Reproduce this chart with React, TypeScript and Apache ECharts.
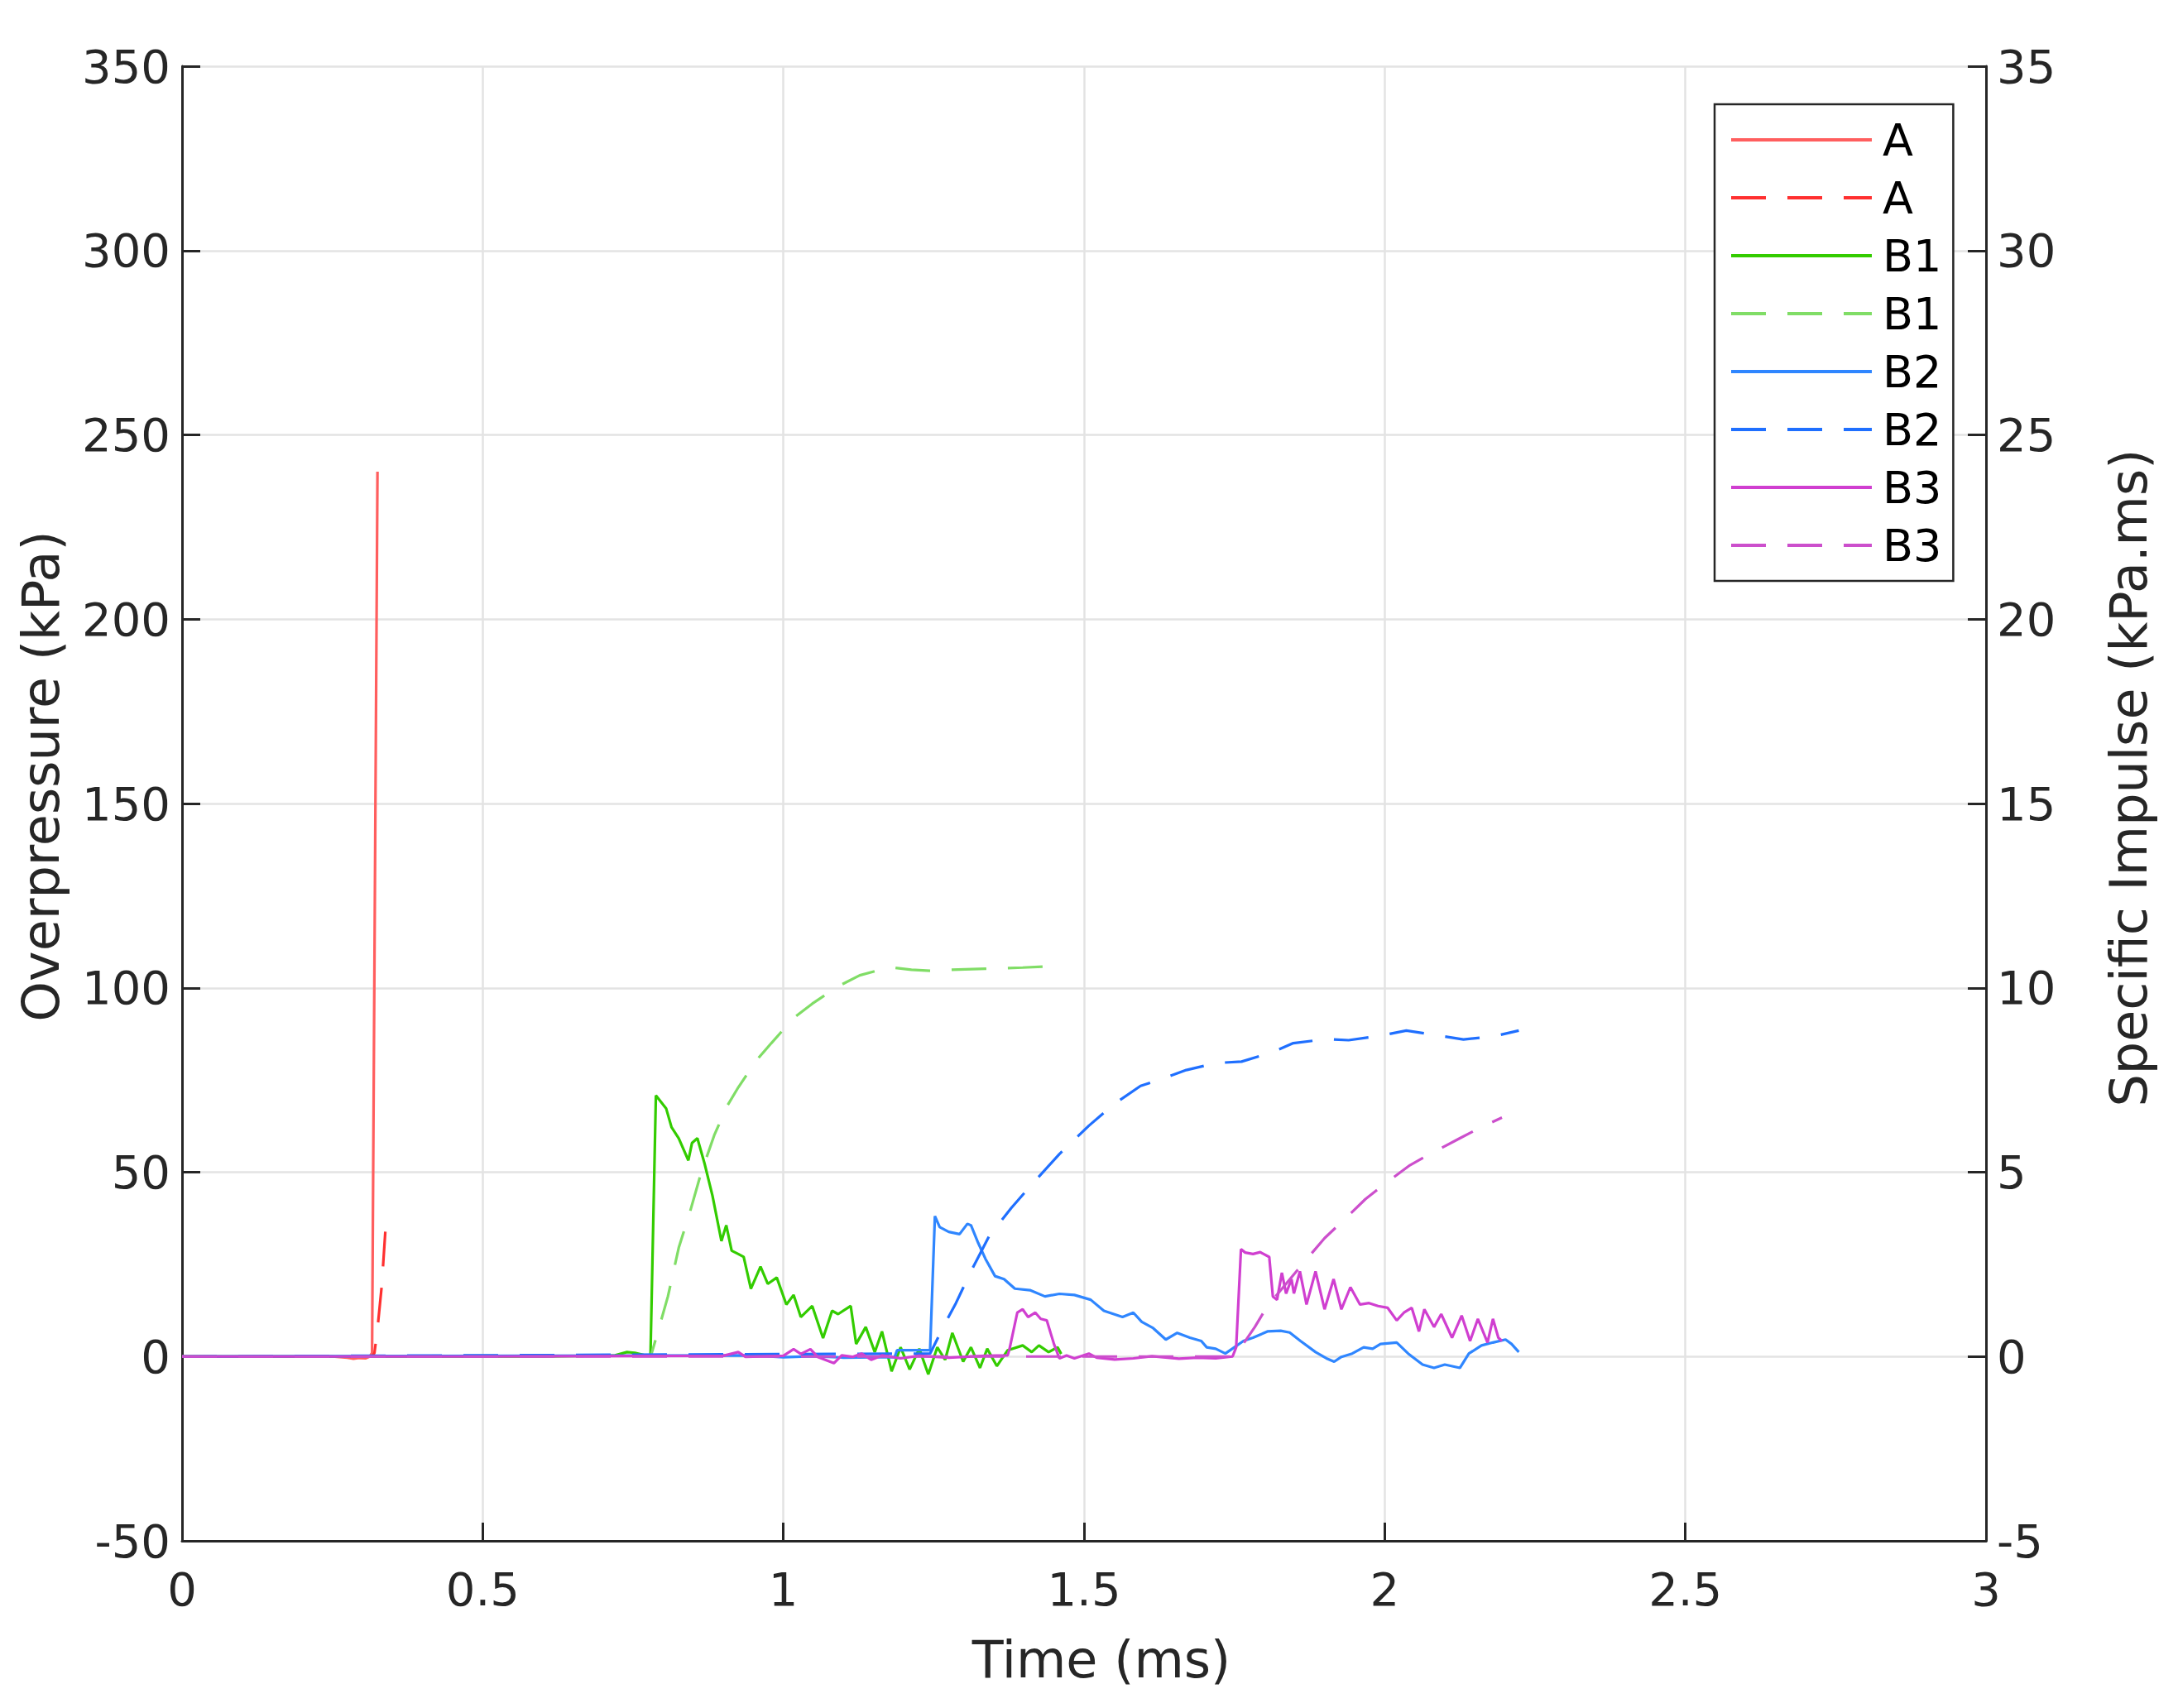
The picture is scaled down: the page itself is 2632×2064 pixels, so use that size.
import React, { useEffect, useRef } from 'react';
import * as echarts from 'echarts';

const W = 2632;
const H = 2064;
const FONT = 'DejaVu Sans';

// Axis ticks
const timeTicks = [0, 0.5, 1, 1.5, 2, 2.5, 3];
const pressureRange = [-50, 350];
const impulseRange = [-5, 35];

// Series A (overpressure kPa / impulse kPa.ms) vs time (ms)
const aTime = [0, 0.25, 0.275, 0.285, 0.295, 0.305, 0.312, 0.316, 0.325];
const aPressure = [0, 0, -0.3, -0.6, -0.4, -0.5, 0, 1, 240];
const aImpulseTime = [0, 0.316, 0.32, 0.325, 0.332, 0.3385];
const aImpulse = [0, 0, 0.1, 0.75, 1.9, 3.5];

// Series B1
const b1Time = [0, 0.6, 0.72, 0.74, 0.753, 0.77, 0.779, 0.788, 0.805, 0.814, 0.826, 0.842, 0.848, 0.857, 0.869, 0.882, 0.897, 0.905, 0.914, 0.925, 0.934, 0.946, 0.962, 0.974, 0.989, 1.005, 1.017, 1.029, 1.048, 1.066, 1.081, 1.091, 1.112, 1.121, 1.137, 1.152, 1.164, 1.18, 1.195, 1.21, 1.226, 1.241, 1.256, 1.269, 1.281, 1.299, 1.312, 1.327, 1.339, 1.355, 1.373, 1.398, 1.413, 1.425, 1.441, 1.456, 1.462];
const b1Pressure = [0, 0, 0.3, 1.2, 1.0, 0.3, 0.3, 70.8, 67.3, 62.2, 59.2, 53.2, 57.9, 59.2, 52.3, 43.7, 31.3, 35.6, 28.7, 27.8, 27.0, 18.4, 24.4, 19.7, 21.4, 14.1, 16.7, 10.7, 13.7, 5.0, 12.4, 11.5, 13.7, 3.4, 8.0, 1.2, 6.8, -4.0, 2.5, -3.5, 2.1, -4.8, 2.5, -0.9, 6.4, -1.4, 2.5, -3.1, 2.1, -2.6, 1.7, 3.0, 1.2, 3.0, 1.2, 2.5, 0.7];
const b1ImpulseTime = [0, 0.78, 0.796, 0.808, 0.826, 0.845, 0.863, 0.885, 0.906, 0.925, 0.955, 0.98, 1.017, 1.048, 1.091, 1.127, 1.177, 1.213, 1.25, 1.275, 1.336, 1.398, 1.459];
const b1Impulse = [0, 0.03, 0.94, 1.63, 2.95, 3.94, 4.97, 6.0, 6.78, 7.3, 8.03, 8.5, 9.18, 9.57, 10.04, 10.34, 10.56, 10.49, 10.46, 10.49, 10.52, 10.55, 10.6];

// Series B2
const b2Time = [0, 0.95, 1.0, 1.05, 1.1, 1.15, 1.185, 1.189, 1.241, 1.244, 1.252, 1.26, 1.275, 1.293, 1.306, 1.312, 1.324, 1.336, 1.352, 1.367, 1.385, 1.41, 1.435, 1.459, 1.484, 1.511, 1.533, 1.564, 1.582, 1.596, 1.615, 1.636, 1.655, 1.676, 1.695, 1.704, 1.719, 1.735, 1.75, 1.765, 1.781, 1.805, 1.827, 1.842, 1.86, 1.885, 1.903, 1.916, 1.928, 1.946, 1.965, 1.98, 1.993, 2.02, 2.039, 2.063, 2.082, 2.1, 2.125, 2.14, 2.161, 2.18, 2.201, 2.211, 2.223];
const b2Pressure = [0, 0.3, -0.2, 0.1, -0.3, -0.2, -0.2, 1.7, 1.7, 1.7, 38.1, 35.1, 33.8, 33.2, 36.0, 35.6, 30.8, 26.5, 21.8, 21.0, 18.4, 18.0, 16.3, 17.0, 16.7, 15.4, 12.4, 10.7, 11.9, 9.4, 7.7, 4.6, 6.4, 5.1, 4.2, 2.5, 2.1, 0.8, 2.5, 4.2, 5.1, 6.8, 7.0, 6.5, 4.2, 1.2, -0.5, -1.4, -0.1, 0.8, 2.5, 2.1, 3.4, 3.8, 0.8, -2.2, -3.1, -2.2, -3.1, 0.8, 3.0, 3.8, 4.6, 3.4, 1.2];
const b2ImpulseTime = [0, 1.244, 1.269, 1.287, 1.312, 1.342, 1.379, 1.416, 1.459, 1.508, 1.551, 1.594, 1.633, 1.67, 1.719, 1.762, 1.811, 1.848, 1.903, 1.94, 1.996, 2.036, 2.088, 2.131, 2.183, 2.223];
const b2Impulse = [0, 0.08, 0.9, 1.45, 2.31, 3.26, 4.03, 4.72, 5.49, 6.26, 6.86, 7.34, 7.55, 7.77, 7.96, 8.0, 8.24, 8.5, 8.61, 8.58, 8.71, 8.84, 8.71, 8.6, 8.69, 8.84];

// Series B3
const b3Time = [0, 0.5, 0.9, 0.925, 0.937, 1.0, 1.017, 1.029, 1.045, 1.057, 1.084, 1.097, 1.115, 1.13, 1.146, 1.164, 1.195, 1.226, 1.275, 1.336, 1.373, 1.376, 1.389, 1.398, 1.407, 1.419, 1.428, 1.438, 1.45, 1.459, 1.471, 1.484, 1.508, 1.521, 1.551, 1.582, 1.613, 1.658, 1.688, 1.719, 1.747, 1.753, 1.761, 1.768, 1.781, 1.793, 1.808, 1.814, 1.821, 1.829, 1.836, 1.845, 1.849, 1.859, 1.87, 1.885, 1.9, 1.915, 1.928, 1.943, 1.959, 1.974, 1.989, 2.005, 2.02, 2.032, 2.045, 2.057, 2.066, 2.082, 2.094, 2.112, 2.128, 2.142, 2.155, 2.171, 2.18, 2.189, 2.195];
const b3Pressure = [0, 0, 0.2, 1.2, -0.1, 0.2, 2.0, 0.7, 2.0, -0.1, -1.8, 0.3, -0.1, 0.8, -0.9, 0.3, -0.5, 0.2, -0.3, 0.2, 0.3, 2.0, 11.9, 12.8, 10.7, 11.9, 10.2, 9.8, 3.4, -0.5, 0.3, -0.5, 0.8, -0.3, -0.8, -0.5, 0.1, -0.6, -0.3, -0.5, 0, 2.5, 29.1, 28.2, 27.8, 28.3, 27.0, 16.3, 15.4, 22.7, 17.1, 21.0, 17.1, 23.1, 14.1, 23.1, 12.8, 21.0, 12.8, 18.8, 14.1, 14.5, 13.7, 13.2, 9.8, 11.9, 13.2, 6.8, 12.8, 8.0, 11.5, 5.1, 11.1, 4.2, 10.2, 3.8, 10.2, 5.1, 4.2];
const b3ImpulseTime = [0, 1.75, 1.768, 1.784, 1.805, 1.864, 1.9, 1.928, 1.968, 1.999, 2.042, 2.075, 2.125, 2.158, 2.195];
const b3Impulse = [0, 0, 0.42, 0.8, 1.37, 2.52, 3.21, 3.64, 4.27, 4.67, 5.19, 5.49, 5.92, 6.2, 6.48];

const legendLabels = ['A', 'A', 'B1', 'B1', 'B2', 'B2', 'B3', 'B3'];
const seriesColors = ['#ff5e5e', '#ff3030', '#33cc00', '#80dd66', '#2f86ff', '#1f6fff', '#d03fd0', '#cc4fcc'];

const zip = (t: number[], v: number[]) => t.map((x, i) => [x, v[i]]);

function makeSeries(idx: number, t: number[], v: number[], dashed: boolean, axis: number) {
  const color = seriesColors[idx];
  return {
    type: 'line',
    name: legendLabels[idx] + '|' + idx,
    data: zip(t, v),
    yAxisIndex: axis,
    symbol: 'none',
    showSymbol: false,
    silent: true,
    animation: false,
    lineStyle: { color, width: 3.2, type: dashed ? [42, 26] : 'solid' },
    itemStyle: { color },
  };
}

export default function App() {
  const ref = useRef<HTMLDivElement>(null);
  useEffect(() => {
    document.body.style.margin = '0';
    const chart = echarts.init(ref.current!, null, { renderer: 'svg', width: W, height: H });
    const axisColor = '#262626';
    const gridColor = '#e3e3e3';
    const option: any = {
      animation: false,
      backgroundColor: '#ffffff',
      textStyle: { fontFamily: FONT },
      grid: { left: 220, top: 80, right: 232, bottom: 202, containLabel: false, outerBoundsMode: 'none' },
      xAxis: {
        type: 'value',
        min: timeTicks[0],
        max: timeTicks[timeTicks.length - 1],
        interval: 0.5,
        axisLine: { show: true, onZero: false, lineStyle: { color: axisColor, width: 3 } },
        axisTick: { show: true, inside: true, length: 22, lineStyle: { color: axisColor, width: 3 } },
        axisLabel: { fontSize: 56, color: axisColor, margin: 30, fontFamily: FONT },
        splitLine: { show: true, lineStyle: { color: gridColor, width: 2.5 } },
      },
      yAxis: [
        {
          type: 'value',
          position: 'left',
          min: pressureRange[0],
          max: pressureRange[1],
          interval: 50,
          axisLine: { show: true, onZero: false, lineStyle: { color: axisColor, width: 3 } },
          axisTick: { show: true, inside: true, length: 22, lineStyle: { color: axisColor, width: 3 } },
          axisLabel: { fontSize: 56, color: axisColor, margin: 14, fontFamily: FONT },
          splitLine: { show: true, lineStyle: { color: gridColor, width: 2.5 } },
        },
        {
          type: 'value',
          position: 'right',
          min: impulseRange[0],
          max: impulseRange[1],
          interval: 5,
          axisLine: { show: true, onZero: false, lineStyle: { color: axisColor, width: 3 } },
          axisTick: { show: true, inside: true, length: 22, lineStyle: { color: axisColor, width: 3 } },
          axisLabel: { fontSize: 56, color: axisColor, margin: 13, fontFamily: FONT },
          splitLine: { show: false },
        },
      ],
      legend: {
        show: true,
        orient: 'vertical',
        left: 2072,
        top: 126,
        padding: [16, 14, 16, 18],
        itemWidth: 170,
        itemHeight: 30,
        itemGap: 16,
        borderColor: '#262626',
        borderWidth: 2.5,
        backgroundColor: '#ffffff',
        selectedMode: false,
        itemStyle: { opacity: 0, borderWidth: 0 },
        lineStyle: { width: 4 },
        textStyle: { fontSize: 54, color: '#000000', fontFamily: FONT, padding: [0, 0, 0, 8] },
        formatter: (name: string) => name.split('|')[0],
      },
      graphic: [
        {
          type: 'text',
          x: 49,
          y: 938,
          rotation: Math.PI / 2,
          style: { text: 'Overpressure (kPa)', fontSize: 62, fontFamily: FONT, fill: axisColor, align: 'center', verticalAlign: 'middle', textAlign: 'center', textVerticalAlign: 'middle' },
        },
        {
          type: 'text',
          x: 2572,
          y: 940,
          rotation: Math.PI / 2,
          style: { text: 'Specific Impulse (kPa.ms)', fontSize: 62, fontFamily: FONT, fill: axisColor, align: 'center', verticalAlign: 'middle', textAlign: 'center', textVerticalAlign: 'middle' },
        },
        {
          type: 'text',
          x: 1331,
          y: 2005,
          style: { text: 'Time (ms)', fontSize: 62, fontFamily: FONT, fill: axisColor, align: 'center', verticalAlign: 'middle', textAlign: 'center', textVerticalAlign: 'middle' },
        },
      ],
      series: [
        makeSeries(0, aTime, aPressure, false, 0),
        makeSeries(1, aImpulseTime, aImpulse, true, 1),
        makeSeries(2, b1Time, b1Pressure, false, 0),
        makeSeries(3, b1ImpulseTime, b1Impulse, true, 1),
        makeSeries(4, b2Time, b2Pressure, false, 0),
        makeSeries(5, b2ImpulseTime, b2Impulse, true, 1),
        makeSeries(6, b3Time, b3Pressure, false, 0),
        makeSeries(7, b3ImpulseTime, b3Impulse, true, 1),
      ],
    };
    chart.setOption(option);
    return () => chart.dispose();
  }, []);
  return <div ref={ref} style={{ width: W, height: H }} />;
}
